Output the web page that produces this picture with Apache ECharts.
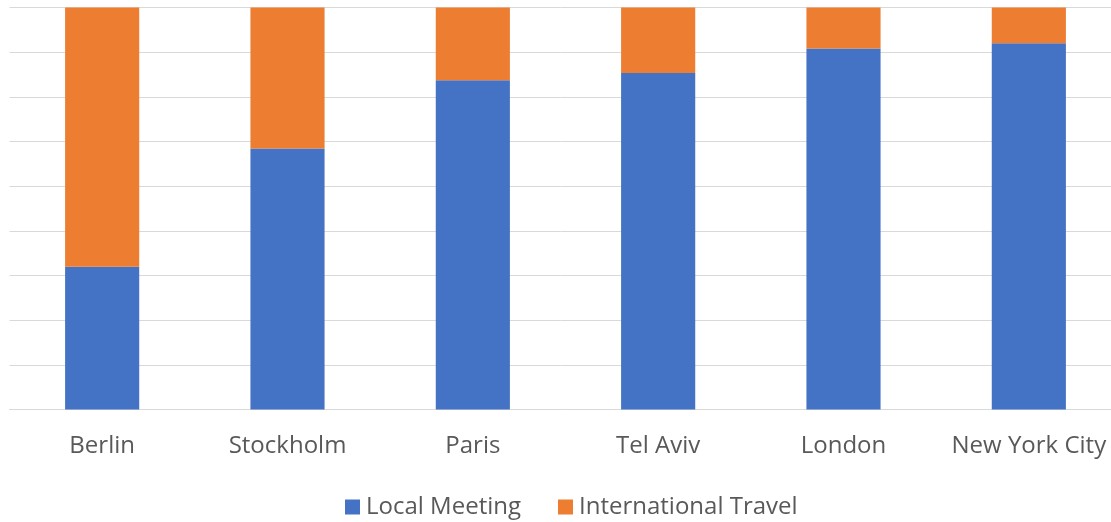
<!DOCTYPE html>
<html>
<head>
<meta charset="utf-8">
<script src="https://cdn.jsdelivr.net/npm/echarts@6/dist/echarts.min.js"></script>
<style>
html,body{margin:0;padding:0;background:#fff;}
#chart{width:1111px;height:522px;}
</style>
</head>
<body>
<div id="chart"></div>
<script>
const categories = ['Berlin', 'Stockholm', 'Paris', 'Tel Aviv', 'London', 'New York City'];
const localMeeting = [35.5, 64.9, 81.9, 83.7, 89.8, 91.1];
const internationalTravel = [64.5, 35.1, 18.1, 16.3, 10.2, 8.9];
const seriesNames = ['Local Meeting', 'International Travel'];

const chart = echarts.init(document.getElementById('chart'));
const font = '"Open Sans", sans-serif';
chart.setOption({
  animation: false,
  color: ['#4472C4', '#ED7D31'],
  grid: { left: 9.5, width: 1112, top: 7.5, bottom: 112.5, containLabel: false, outerBoundsMode: 'none' },
  legend: {
    data: seriesNames,
    left: 340,
    top: 490,
    icon: 'rect',
    itemWidth: 15,
    itemHeight: 15,
    itemGap: 37,
    textStyle: { fontFamily: font, fontSize: 24, color: '#595959', padding: [0, 0, 0, 1] }
  },
  xAxis: {
    type: 'category',
    data: categories,
    axisLine: { lineStyle: { color: '#d9d9d9', width: 1 } },
    axisTick: { show: false },
    axisLabel: { fontFamily: font, fontSize: 24, color: '#595959', margin: 25, interval: 0 }
  },
  yAxis: {
    type: 'value',
    min: 0,
    max: 100,
    interval: 100 / 9,
    axisLabel: { show: false },
    axisLine: { show: false },
    axisTick: { show: false },
    splitLine: { lineStyle: { color: '#d9d9d9', width: 1 } }
  },
  series: [
    { name: seriesNames[0], type: 'bar', stack: 'total', data: localMeeting, barCategoryGap: '60%' },
    { name: seriesNames[1], type: 'bar', stack: 'total', data: internationalTravel, barCategoryGap: '60%' }
  ]
});
</script>
</body>
</html>
